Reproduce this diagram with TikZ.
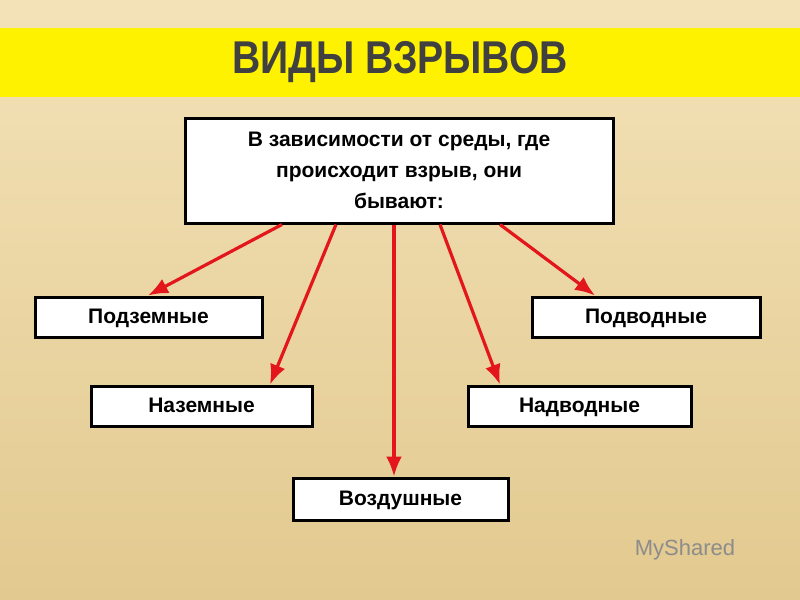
\documentclass[tikz,border=0pt]{standalone}
\usepackage{fontspec}
\setmainfont{Liberation Sans}
\usetikzlibrary{arrows.meta}
\definecolor{bgA}{HTML}{F3E2B8}
\definecolor{bgB}{HTML}{E2C98F}
\definecolor{band}{HTML}{FFF200}
\definecolor{arr}{HTML}{E3161B}
\begin{document}
\begin{tikzpicture}[x=0.5pt,y=-0.5pt,
  box/.style={draw=black,line width=1.5pt,fill=white,font=\bfseries\fontsize{10.5}{13}\selectfont,inner sep=0pt,text height=1.55ex,text depth=0.35ex},
  arrow/.style={draw=arr,line width=1.6pt,-{Latex[length=10pt,width=8pt]}}]
\useasboundingbox (0,0) rectangle (800,600);
\shade[top color=bgA,bottom color=bgB] (0,0) rectangle (800,600);
\fill[band] (0,28) rectangle (800,97);
\node[font=\bfseries\fontsize{23}{28}\selectfont,text=black!75,xscale=0.85] (title) at (400,62) {ВИДЫ ВЗРЫВОВ};
\node[draw=black,line width=1.5pt,fill=white,inner sep=0pt,minimum width=214pt,minimum height=52.5pt,align=center,font=\bfseries\fontsize{10.5}{15.5}\selectfont] (top) at (399,170.5) {В зависимости от среды, где\\происходит взрыв, они\\бывают:};
\node[box,minimum width=113.5pt,minimum height=20pt] (pz) at (148.5,317) {Подземные};
\node[box,minimum width=114pt,minimum height=20pt] (pv) at (646,317) {Подводные};
\node[box,minimum width=110.5pt,minimum height=20pt] (nz) at (201.5,406) {Наземные};
\node[box,minimum width=111.5pt,minimum height=20pt] (nv) at (579.5,406) {Надводные};
\node[box,minimum width=107.5pt,minimum height=21pt] (vz) at (400.5,499) {Воздушные};
\draw[arrow] (top.south -| 282,0) -- (pz.north -| 148,0);
\draw[arrow] (top.south -| 336,0) -- (nz.north -| 270,0);
\draw[arrow] (top.south -| 394,0) -- (vz.north -| 394,0);
\draw[arrow] (top.south -| 440,0) -- (nv.north -| 500,0);
\draw[arrow] (top.south -| 500,0) -- (pv.north -| 595,0);
\node[font=\fontsize{11}{13}\selectfont,text=black!45] (logo) at (685,550) {MyShared};
\end{tikzpicture}
\end{document}
